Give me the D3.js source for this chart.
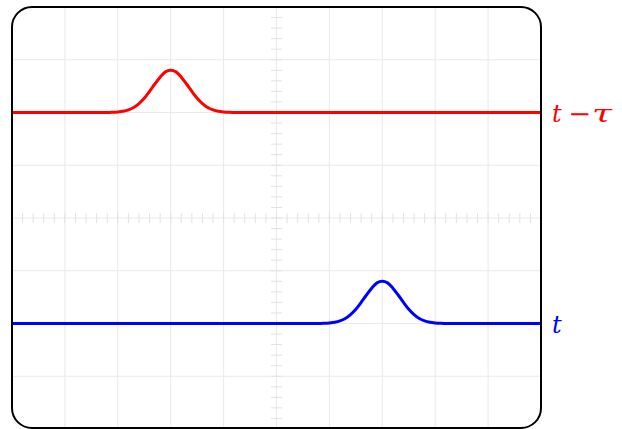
<!DOCTYPE html>
<html>
<head>
<meta charset="UTF-8" />
<script src="https://d3js.org/d3.v7.min.js"></script>
<style>
  body { margin: 0; background: #fff; }
  .grid line { stroke: #e9e9e9; stroke-width: 1px; }
  .minor line { stroke: #e2e2e2; stroke-width: 1px; }
  .trace { fill: none; stroke-width: 3px; stroke-linejoin: round; }
  text { font-family: "DejaVu Serif", "Liberation Serif", serif; font-size: 24px; }
</style>
</head>
<body>
<svg width="622" height="429"></svg>
<script>
  // two traces, in divisions
  const redX  = [-5, -3.2, -3.1, -3.0, -2.9, -2.8, -2.7, -2.6, -2.5, -2.4, -2.3, -2.2, -2.1, -2.0,
                 -1.9, -1.8, -1.7, -1.6, -1.5, -1.4, -1.3, -1.2, -1.1, -1.0, -0.9, -0.8, 5];
  const redY  = [2, 2, 2.004, 2.011, 2.024, 2.05, 2.096, 2.17, 2.27, 2.40, 2.54, 2.67, 2.77, 2.80,
                 2.77, 2.67, 2.54, 2.40, 2.27, 2.17, 2.096, 2.05, 2.024, 2.011, 2.004, 2, 2];
  const blueX = [-5, 0.8, 0.9, 1.0, 1.1, 1.2, 1.3, 1.4, 1.5, 1.6, 1.7, 1.8, 1.9, 2.0,
                 2.1, 2.2, 2.3, 2.4, 2.5, 2.6, 2.7, 2.8, 2.9, 3.0, 3.1, 3.2, 5];
  const blueY = [-2, -2, -1.996, -1.989, -1.976, -1.95, -1.904, -1.83, -1.73, -1.60, -1.46, -1.33, -1.23, -1.20,
                 -1.23, -1.33, -1.46, -1.60, -1.73, -1.83, -1.904, -1.95, -1.976, -1.989, -1.996, -2, -2];
  const labels = [
    { parts: [["t", 0, 0], ["\u2212", 16, 23], ["\u03c4", 40, 20]], y: 2, color: "#ff0000" },
    { parts: [["t", 0, 0]], y: -2, color: "#0000ff" }
  ];

  const svg = d3.select("svg");
  const x = d3.scaleLinear([-5, 5], [12, 541]);
  const y = d3.scaleLinear([-4, 4], [429, 7]);

  svg.append("clipPath").attr("id", "screen")
    .append("rect")
    .attr("x", 12).attr("y", 7)
    .attr("width", 529).attr("height", 421)
    .attr("rx", 20);

  const scr = svg.append("g").attr("clip-path", "url(#screen)");

  const grid = scr.append("g").attr("class", "grid");
  grid.selectAll(".v").data(d3.range(-5, 6)).join("line")
    .attr("class", "v")
    .attr("x1", d => x(d)).attr("x2", d => x(d))
    .attr("y1", y(4)).attr("y2", y(-4));
  grid.selectAll(".h").data(d3.range(-4, 5)).join("line")
    .attr("class", "h")
    .attr("y1", d => y(d)).attr("y2", d => y(d))
    .attr("x1", x(-5)).attr("x2", x(5));

  // minor ticks on the centre axes, five per division
  const minor = scr.append("g").attr("class", "minor");
  minor.selectAll(".mx").data(d3.range(-24, 25).map(d => d / 5))
    .join("line").attr("class", "mx")
    .attr("x1", d => x(d)).attr("x2", d => x(d))
    .attr("y1", y(0) - 5).attr("y2", y(0) + 5);
  minor.selectAll(".my").data(d3.range(-19, 20).map(d => d / 5))
    .join("line").attr("class", "my")
    .attr("y1", d => y(d)).attr("y2", d => y(d))
    .attr("x1", x(0) - 5.5).attr("x2", x(0) + 5.5);

  const line = d3.line()
    .x(d => x(d[0]))
    .y(d => y(d[1]))
    .curve(d3.curveMonotoneX);

  scr.append("path").attr("class", "trace")
    .attr("stroke", "#ff0000")
    .attr("d", line(d3.zip(redX, redY)));
  scr.append("path").attr("class", "trace")
    .attr("stroke", "#0000ff")
    .attr("d", line(d3.zip(blueX, blueY)));

  svg.append("rect")
    .attr("x", 12).attr("y", 7)
    .attr("width", 529).attr("height", 421)
    .attr("rx", 20)
    .attr("fill", "none")
    .attr("stroke", "#000")
    .attr("stroke-width", 2);

  labels.forEach(l => {
    l.parts.forEach(([s, dx, w]) => {
      const t = svg.append("text")
        .attr("x", x(5) + 11 + dx)
        .attr("y", y(l.y) + 9)
        .attr("fill", l.color)
        .attr("font-style", s === "\u2212" ? "normal" : "italic")
        .text(s);
      if (s === "\u2212") t.attr("font-family", "DejaVu Sans");
      if (w) t.attr("textLength", w).attr("lengthAdjust", "spacingAndGlyphs");
    });
  });
</script>
</body>
</html>
